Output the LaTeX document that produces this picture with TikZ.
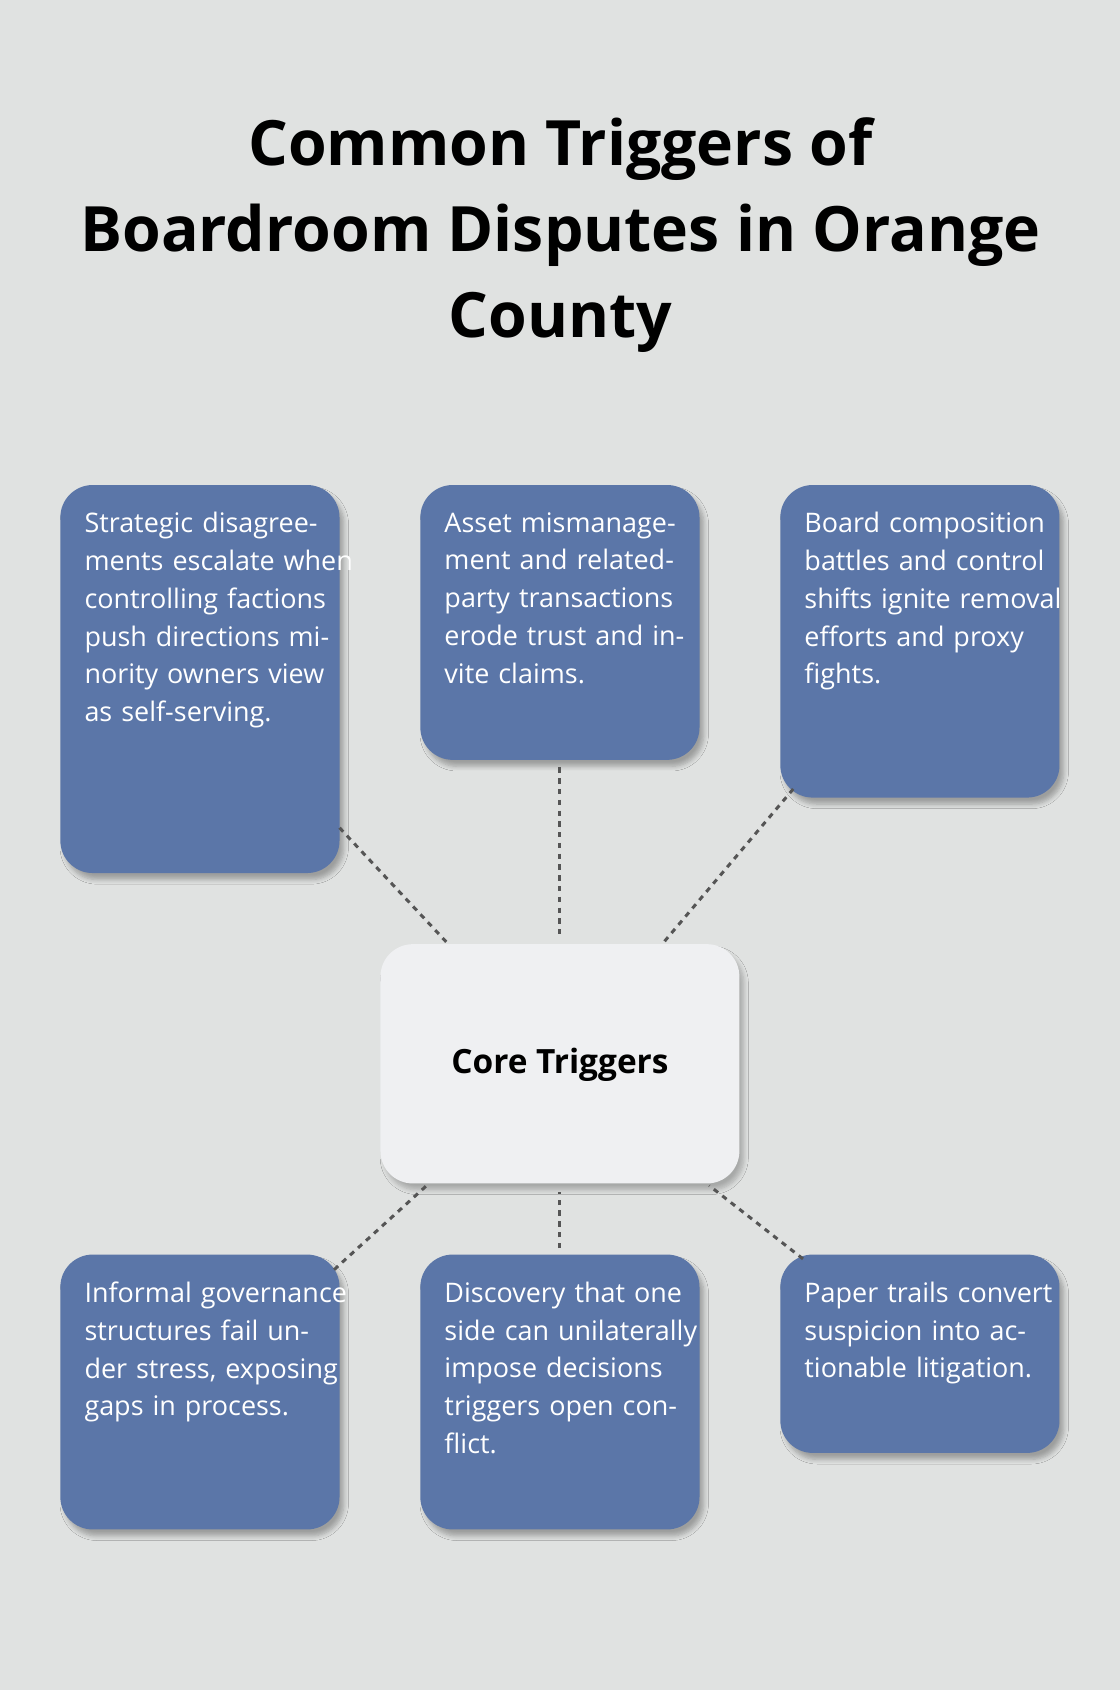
\documentclass[tikz,border=0pt]{standalone}
\usepackage{fontspec}
\setmainfont{Open Sans}
\usetikzlibrary{shadows.blur}
\definecolor{bg}{HTML}{E0E2E1}
\definecolor{boxc}{HTML}{5B76A8}
\definecolor{corec}{HTML}{EFF0F2}
\definecolor{linec}{HTML}{555555}
\begin{document}
\begin{tikzpicture}[x=0.5pt,y=-0.5pt,
  box/.style={fill=boxc,rounded corners=15pt,blur shadow={shadow xshift=2pt,shadow yshift=-3pt,shadow blur steps=6,shadow opacity=30}},
  txt/.style={anchor=north west,text=white,align=left,text width=125pt,inner sep=0pt,font=\fontsize{12.5}{17.5}\selectfont},
  conn/.style={draw=linec,line width=1.4pt,dash pattern=on 2.5pt off 2.5pt}]
\fill[bg] (0,0) rectangle (1039,1568);
\useasboundingbox (0,0) rectangle (1039,1568);
\node[font=\fontsize{29}{40}\selectfont\bfseries,align=center,inner sep=0pt] (title) at (520,218) {Common Triggers of\\Boardroom Disputes in Orange\\County};
% boxes
\path[box] (56,450) rectangle (315,810);
\path[box] (390,450) rectangle (649,705);
\path[box] (724,450) rectangle (983,740);
\path[box] (56,1164) rectangle (315,1419);
\path[box] (390,1164) rectangle (649,1419);
\path[box] (724,1164) rectangle (983,1348);
\path[fill=corec,rounded corners=15pt,blur shadow={shadow xshift=2pt,shadow yshift=-3pt,shadow blur steps=6,shadow opacity=25}] (353,876) rectangle (686,1098);
\node[font=\fontsize{15.5}{18}\selectfont\bfseries,inner sep=0pt] (core) at (519.5,988) {Core Triggers};
\node[txt] (t1) at (78,475) {Strategic disagreements escalate when controlling factions push directions minority owners view as self-serving.};
\node[txt] (t2) at (412,475) {Asset mismanagement and related-party transactions erode trust and invite claims.};
\node[txt] (t3) at (746,475) {Board composition battles and control shifts ignite removal efforts and proxy fights.};
\node[txt] (t4) at (78,1189) {Informal governance structures fail under stress, exposing gaps in process.};
\node[txt] (t5) at (412,1189) {Discovery that one side can unilaterally impose decisions triggers open conflict.};
\node[txt] (t6) at (746,1189) {Paper trails convert suspicion into actionable litigation.};
% connectors
\coordinate (a1) at (315,768); \coordinate (b1) at (416,876);
\coordinate (a2) at (519,712); \coordinate (b2) at (519,868);
\coordinate (a3) at (736,732); \coordinate (b3) at (616,874);
\coordinate (a4) at (310,1178); \coordinate (b4) at (398,1098);
\coordinate (a5) at (519,1158); \coordinate (b5) at (519,1106);
\coordinate (a6) at (745,1168); \coordinate (b6) at (658,1100);
\foreach \i in {1,...,6} \draw[conn] (a\i) -- (b\i);
\end{tikzpicture}
\end{document}
